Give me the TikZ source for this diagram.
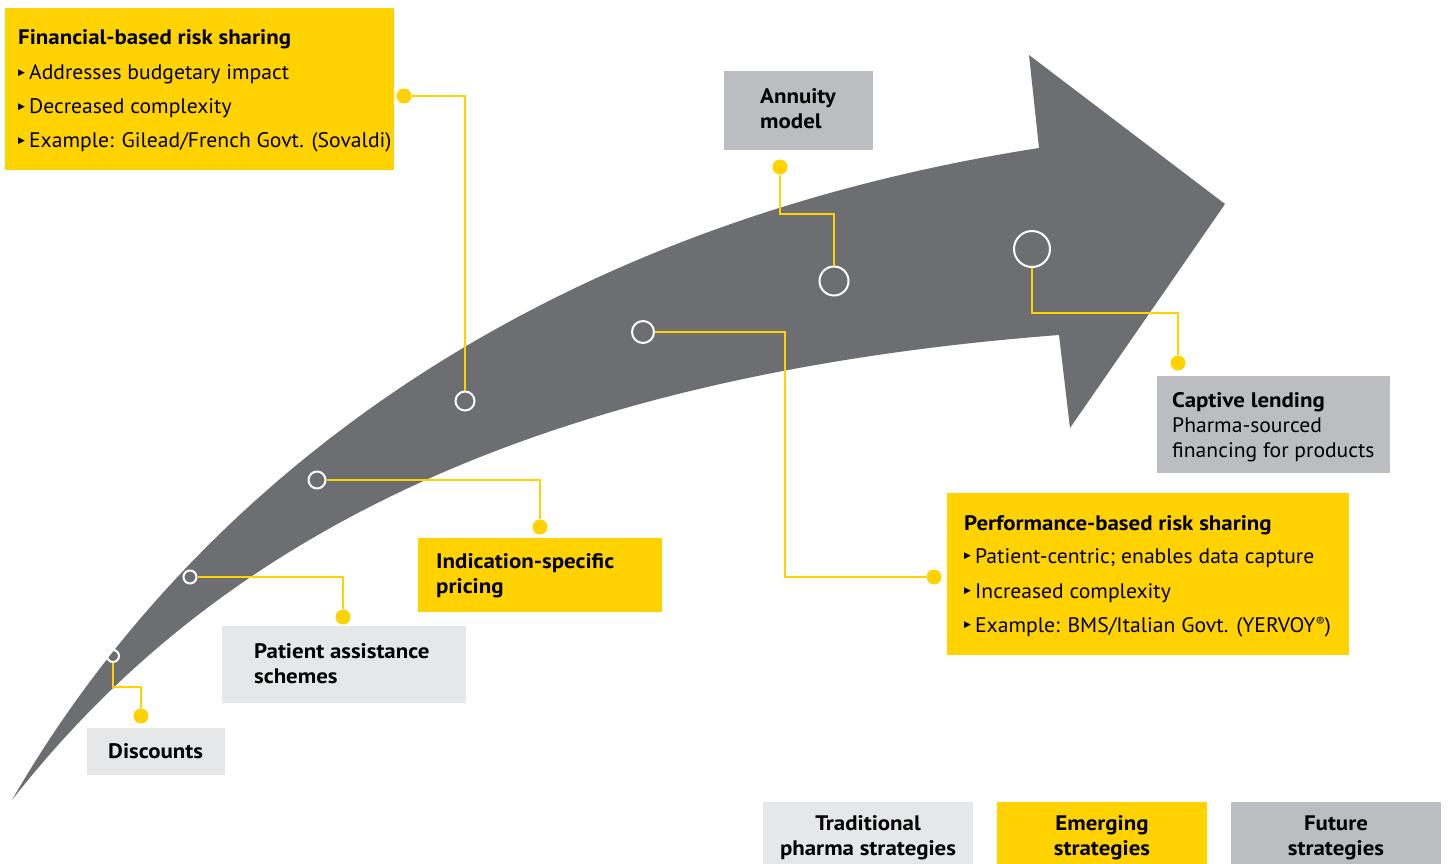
\documentclass[tikz,border=0pt]{standalone}
\usepackage{fontspec}
\setmainfont{PT Sans}[UprightFeatures={FakeStretch=1.03}, BoldFeatures={FakeStretch=1.09}]
\newfontfamily\symfont{DejaVu Sans}
\usetikzlibrary{calc}
\definecolor{eyyellow}{HTML}{FFD200}
\definecolor{arrowgray}{HTML}{6D6E71}
\definecolor{midgray}{HTML}{BCBDC0}
\definecolor{palegray}{HTML}{E6E7E8}
\newcommand{\bul}{{\symfont\fontsize{9}{9}\selectfont\raisebox{4.5pt}{▶}}\hspace{4pt}}
\tikzset{
  box/.style={anchor=north west, inner sep=0pt, minimum width=#1},
  ybox/.style={box=#1, fill=eyyellow},
  gbox/.style={box=#1, fill=midgray},
  pbox/.style={box=#1, fill=palegray},
  txt/.style={anchor=base west, inner sep=0pt, font=\fontsize{21}{24}\selectfont},
  btxt/.style={anchor=base west, inner sep=0pt, font=\fontsize{21}{24}\selectfont\bfseries},
  ctxt/.style={anchor=base, inner sep=0pt, font=\fontsize{21}{24}\selectfont\bfseries},
  conn/.style={draw=eyyellow, line width=2pt},
  dot/.style={circle, fill=eyyellow, inner sep=0pt, minimum size=15pt},
  ring/.style={circle, draw=white, line width=2pt, inner sep=0pt, minimum size=#1},
}
\begin{document}
\begin{tikzpicture}[x=1pt,y=-1pt]
\useasboundingbox (0,0) rectangle (1448,864);
% arrow
\fill[arrowgray] (12,800) .. controls (150,560) and (450,240) .. (1039,148)
  -- (1029,55) -- (1225,204) -- (1070,428) -- (1059,335)
  .. controls (500,378) and (200,560) .. (12,800) -- cycle;
% rings
\node[ring=12pt] (c1) at (113,656) {};
\node[ring=13pt] (c2) at (190,577) {};
\node[ring=17pt] (c3) at (317,480) {};
\node[ring=19pt] (c4) at (465,401) {};
\node[ring=22pt] (c5) at (643,332) {};
\node[ring=29pt] (c6) at (834,281) {};
\node[ring=36pt] (c7) at (1032,249) {};
% dots
\node[dot] (d1) at (141,716) {};
\node[dot] (d2) at (343,617) {};
\node[dot] (d3) at (540,527) {};
\node[dot] (d4) at (404,96) {};
\node[dot] (d5) at (934,577) {};
\node[dot] (d6) at (780,167) {};
\node[dot] (d7) at (1178,363) {};
% connectors
\draw[conn] (c1.south) |- (d1 |- 0,687) -- (d1);
\draw[conn] (c2.east) -| (d2);
\draw[conn] (c3.east) -| (d3);
\draw[conn] (d4) -| (c4.north);
\draw[conn] (c5.east) -- (c5.east -| 785,0) |- (d5);
\draw[conn] (d6) |- (c6.north |- 0,214) -- (c6.north);
\draw[conn] (c7.south) |- (d7 |- 0,313) -- (d7);
% boxes
\node[ybox=389pt, minimum height=162pt] (fin) at (5,8) {};
\node[btxt] (fin1) at (18,45) {Financial-based risk sharing};
\node[txt] (fin2) at (18,80) {\bul Addresses budgetary impact};
\node[txt] (fin3) at (18,114) {\bul Decreased complexity};
\node[txt] (fin4) at (18,148) {\bul Example: Gilead/French Govt. (Sovaldi)};

\node[gbox=149pt, minimum height=79pt] (ann) at (724,71) {};
\node[btxt] (ann1) at (760,104) {Annuity};
\node[btxt] (ann2) at (760,129) {model};

\node[gbox=233pt, minimum height=97pt] (cap) at (1157,376) {};
\node[btxt] (cap1) at (1172,407) {Captive lending};
\node[txt] (cap2) at (1172,432) {Pharma-sourced};
\node[txt] (cap3) at (1172,457) {financing for products};

\node[ybox=402pt, minimum height=162pt] (perf) at (947,493) {};
\node[btxt] (perf1) at (964,530) {Performance-based risk sharing};
\node[txt] (perf2) at (964,563) {\bul Patient-centric; enables data capture};
\node[txt] (perf3) at (964,598) {\bul Increased complexity};
\node[txt] (perf4) at (964,632) {\bul Example: BMS/Italian Govt. (YERVOY{\fontsize{13}{13}\selectfont\raisebox{6pt}{\textregistered}})};

\node[ybox=244pt, minimum height=74pt] (ind) at (418,538) {};
\node[btxt] (ind1) at (436,568) {Indication-specific};
\node[btxt] (ind2) at (436,593) {pricing};

\node[pbox=244pt, minimum height=77pt] (pat) at (222,626) {};
\node[btxt] (pat1) at (254,658) {Patient assistance};
\node[btxt] (pat2) at (254,683) {schemes};

\node[pbox=138pt, minimum height=47pt] (dis) at (87,728) {};
\node[btxt] (dis1) at (108,758) {Discounts};

% legend
\node[pbox=210pt, minimum height=62pt] (lg1) at (763,802) {};
\node[ctxt] at (868,830) {Traditional};
\node[ctxt] at (868,855) {pharma strategies};
\node[ybox=210pt, minimum height=62pt] (lg2) at (997,802) {};
\node[ctxt] at (1102,830) {Emerging};
\node[ctxt] at (1102,855) {strategies};
\node[gbox=210pt, minimum height=62pt] (lg3) at (1231,802) {};
\node[ctxt] at (1336,830) {Future};
\node[ctxt] at (1336,855) {strategies};
\end{tikzpicture}
\end{document}
